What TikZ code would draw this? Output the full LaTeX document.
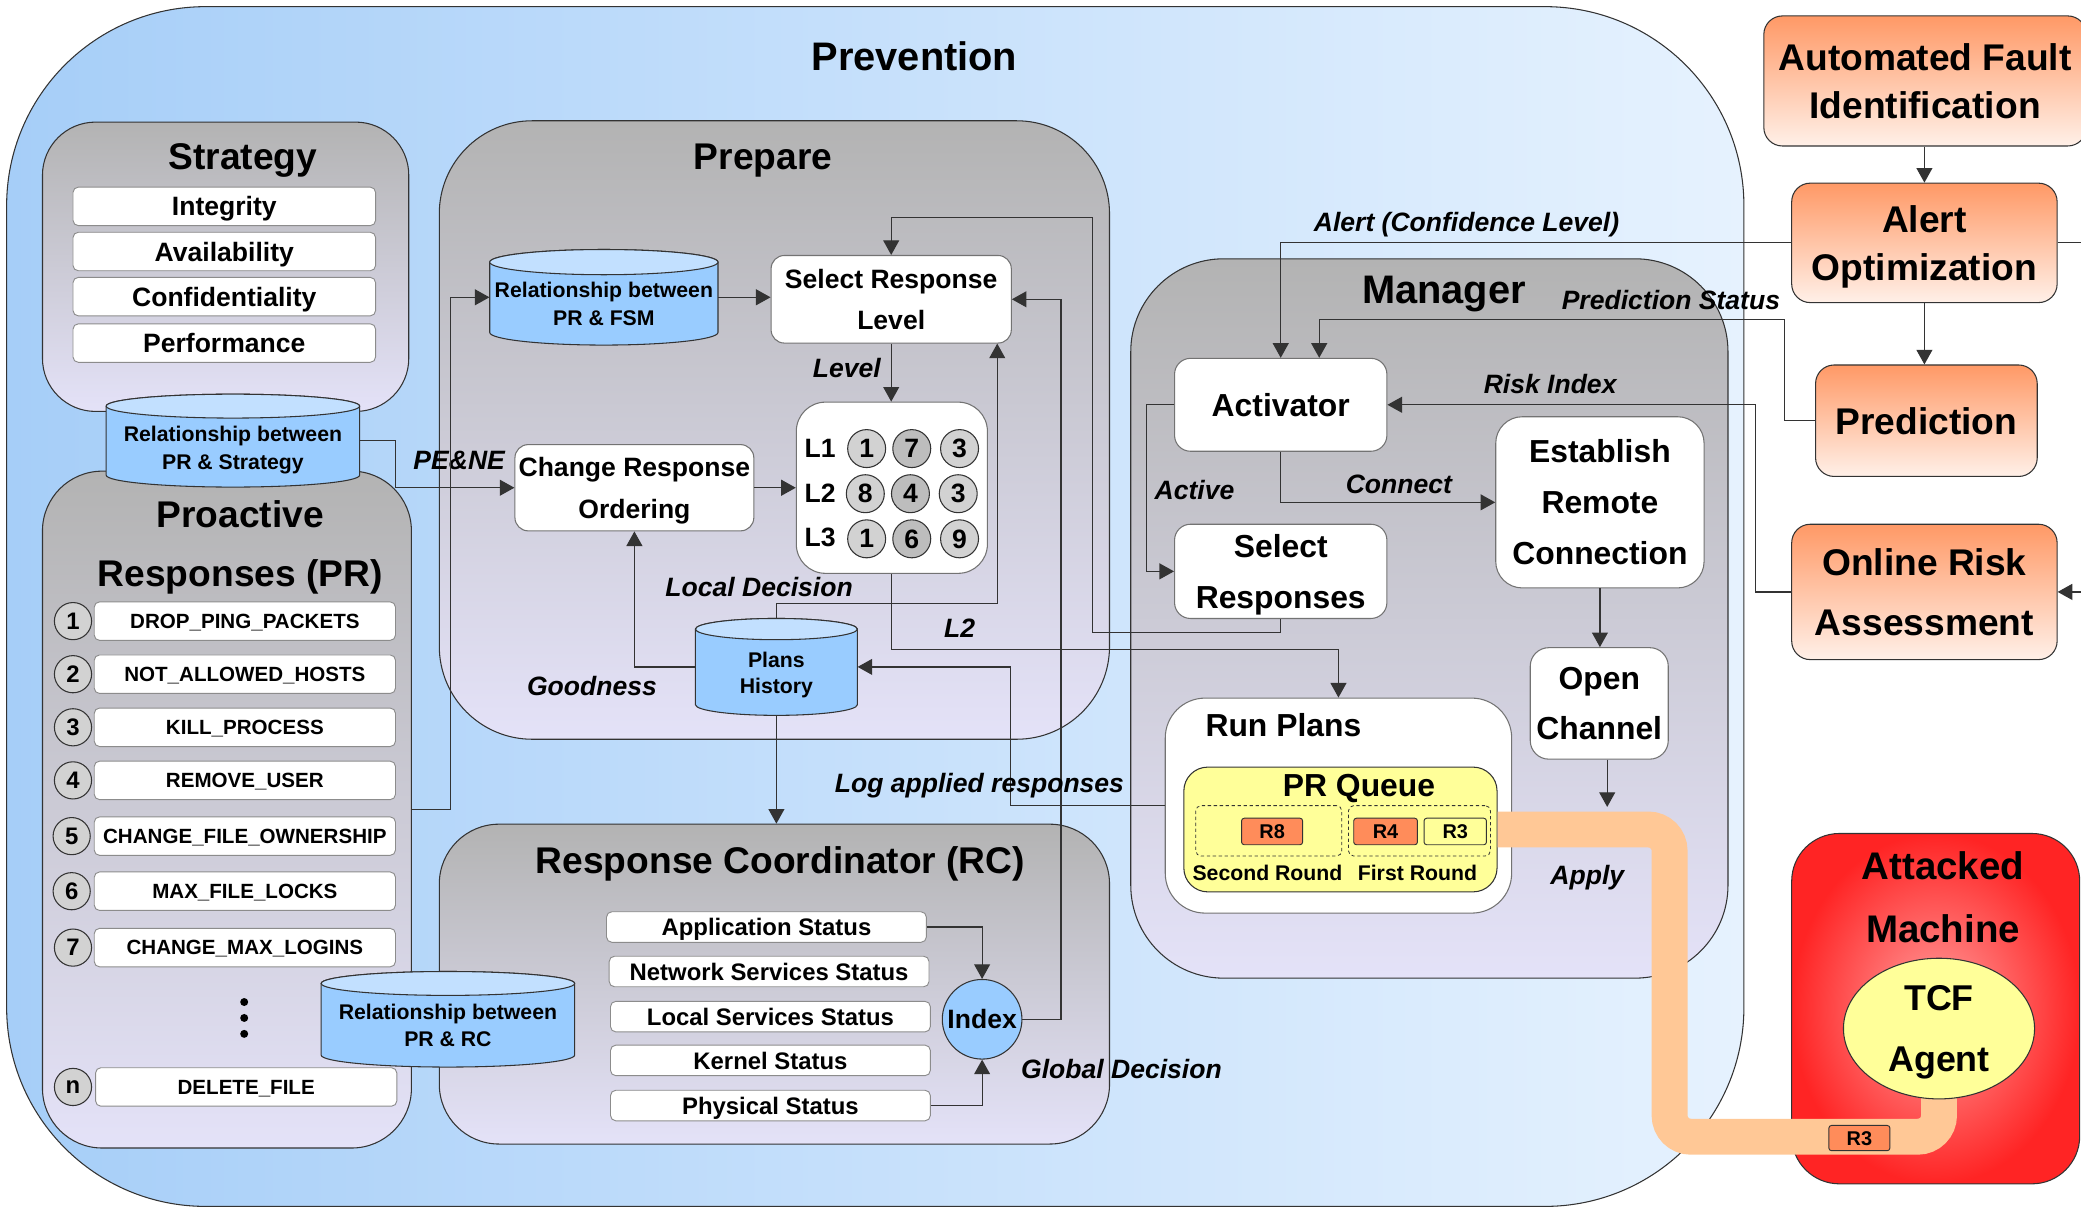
\documentclass[tikz,border=0pt]{standalone}
\usepackage{fontspec}
\setmainfont{Liberation Sans}
\usetikzlibrary{arrows.meta,shapes.geometric,calc}
\definecolor{gtop}{HTML}{B3B3B3}
\definecolor{gbot}{HTML}{E4E2F8}
\definecolor{pvA}{HTML}{A6CEF8}
\definecolor{pvB}{HTML}{E6F2FE}
\definecolor{cylB}{HTML}{99CCFF}
\definecolor{cylT}{HTML}{C2E0FF}
\definecolor{orT}{HTML}{FF9966}
\definecolor{orB}{HTML}{FFF0E8}
\definecolor{yel}{HTML}{FFFF99}
\definecolor{rbox}{HTML}{FF8C5A}
\definecolor{bandc}{HTML}{FFC896}
\definecolor{lnc}{HTML}{333333}
\definecolor{redO}{HTML}{FF2424}
\definecolor{redI}{HTML}{FFA0A0}
\definecolor{cga}{HTML}{D2D2D2}
\definecolor{cgb}{HTML}{BDBDBD}
\newcommand\fsz[2]{\fontsize{#1pt}{#2pt}\selectfont\bfseries}
\newcommand\drawcyl[5]{%
  \pgfmathsetmacro\cxa{(#1+#3)/2}%
  \pgfmathsetmacro\rxa{(#3-#1)/2}%
  \path[draw=lnc,line width=0.8pt,fill=cylB] (#1,#2+#5) -- (#1,#4-#5)
    arc[start angle=180,end angle=360,x radius=\rxa pt,y radius=#5pt]
    -- (#3,#2+#5) arc[start angle=0,end angle=180,x radius=\rxa pt,y radius=#5pt] -- cycle;
  \path[draw=lnc,line width=0.8pt,fill=cylT] (\cxa,#2+#5) ellipse[x radius=\rxa pt,y radius=#5pt];
}
\begin{document}
\begin{tikzpicture}[x=1pt,y=-1pt,
  every node/.append style={text depth=0pt},
  cont/.style={draw=lnc,line width=0.8pt,top color=gtop,bottom color=gbot,inner sep=0},
  nbox/.style={draw=black!55,line width=0.8pt,fill=white,rounded corners=10pt,inner sep=0,align=center},
  wbox/.style={draw=black!45,line width=0.7pt,fill=white,rounded corners=4pt,inner sep=0},
  ibox/.style={wbox,minimum width=227pt,minimum height=29pt,font=\fsz{15.5}{18}},
  sbox/.style={wbox,minimum width=241pt,minimum height=23pt,font=\fsz{18}{20}},
  numc/.style={circle,draw=lnc,line width=0.8pt,fill=cga,minimum size=28pt,inner sep=0,font=\fsz{18}{20}},
  gc/.style={circle,draw=lnc,line width=0.8pt,fill=cga,minimum size=28.6pt,inner sep=0,font=\fsz{20}{22}},
  obox/.style={draw=lnc,line width=0.8pt,top color=orT,bottom color=orB,rounded corners=14pt,inner sep=0,align=center,font=\fsz{28}{36}},
  rsm/.style={draw=lnc,line width=0.7pt,rounded corners=2pt,inner sep=0,minimum height=20pt,font=\fsz{15}{17}},
  lab/.style={inner sep=0,font=\fsz{20}{22}\itshape},
  ttl/.style={inner sep=0,font=\fsz{28}{30}},
  ctext/.style={inner sep=0,align=center,font=\fsz{16}{21}},
  ln/.style={draw=lnc,line width=0.9pt},
  arr/.style={ln,-{Triangle[length=11pt,width=12pt]}}]
\useasboundingbox (0,0) rectangle (1568,910);

% ---------------- Prevention ----------------
\node[draw=lnc,line width=0.8pt,left color=pvA,right color=pvB,inner sep=0,
  minimum width=1309pt,minimum height=904pt,rounded corners=150pt] (prev) at (659.5,457) {};
\node[inner sep=0,font=\fsz{30}{32}] (tprev) at (689,42) {Prevention};

% ---------------- Strategy ----------------
\node[cont,minimum width=276pt,minimum height=218pt,rounded corners=40pt] (strat) at (170,201) {};
\node[ttl] (tstrat) at (183,118) {Strategy};
\node[wbox,minimum width=228pt,minimum height=29pt,font=\fsz{20}{22}] (integ) at (169,155.5) {Integrity};
\node[wbox,minimum width=228pt,minimum height=29pt,font=\fsz{20}{22}] (avail) at (169,189.5) {Availability};
\node[wbox,minimum width=228pt,minimum height=29pt,font=\fsz{20}{22}] (conf) at (169,223.5) {Confidentiality};
\node[wbox,minimum width=228pt,minimum height=29pt,font=\fsz{20}{22}] (perf) at (169,258.5) {Performance};

% ---------------- Proactive Responses ----------------
\node[cont,minimum width=278pt,minimum height=510pt,rounded corners=45pt] (pro) at (171,610) {};
\node[ttl,align=center,font=\fsz{28}{45}] (tpro) at (181,409.5) {Proactive\\Responses (PR)};
\node[numc] (n1) at (55,468) {1};
\node[ibox] (p1) at (184.5,468) {DROP\_PING\_PACKETS};
\node[numc] (n2) at (55,508) {2};
\node[ibox] (p2) at (184.5,508) {NOT\_ALLOWED\_HOSTS};
\node[numc] (n3) at (55,548) {3};
\node[ibox] (p3) at (184.5,548) {KILL\_PROCESS};
\node[numc] (n4) at (55,588) {4};
\node[ibox] (p4) at (184.5,588) {REMOVE\_USER};
\node[numc] (n5) at (54,630) {5};
\node[ibox] (p5) at (184.5,630) {CHANGE\_FILE\_OWNERSHIP};
\node[numc] (n6) at (54,671.5) {6};
\node[ibox] (p6) at (184.5,671.5) {MAX\_FILE\_LOCKS};
\node[numc] (n7) at (55,714) {7};
\node[ibox] (p7) at (184.5,714) {CHANGE\_MAX\_LOGINS};
\fill[black] (184,755) circle (3pt) (184,767) circle (3pt) (184,779) circle (3pt);
\node[numc] (nn) at (55,819) {n};
\node[ibox] (pn) at (185.5,819) {DELETE\_FILE};

% Relationship PR & Strategy
\drawcyl{80}{297}{271}{367}{9}
\node[inner sep=0,minimum width=191pt,minimum height=70pt] (cylPS) at (175.5,332) {};
\node[ctext] (tcylPS) at (175.5,337.5) {Relationship between\\PR \& Strategy};

% ---------------- Prepare ----------------
\node[cont,minimum width=505pt,minimum height=466pt,rounded corners=70pt] (prep) at (583.5,324) {};
\node[ttl] (tprep) at (575,118) {Prepare};
\drawcyl{369}{188}{541}{260}{9.5}
\node[inner sep=0,minimum width=172pt,minimum height=72pt] (cylF) at (455,224) {};
\node[ctext] (tcylF) at (455,229) {Relationship between\\PR \& FSM};
\node[nbox,minimum width=181pt,minimum height=66pt,font=\fsz{20}{31}] (srl) at (671.5,225.5) {Select Response\\Level};
\node[nbox,minimum width=180pt,minimum height=65pt,font=\fsz{20}{32}] (cro) at (478,367.5) {Change Response\\Ordering};
\node[nbox,minimum width=144pt,minimum height=129pt,rounded corners=22pt] (grid) at (672,367.5) {};
\node[inner sep=0,font=\fsz{20}{22}] (l1) at (618,338) {L1};
\node[inner sep=0,font=\fsz{20}{22}] (l2) at (618,372) {L2};
\node[inner sep=0,font=\fsz{20}{22}] (l3) at (618,405) {L3};
\node[gc] (c11) at (653,338) {1};
\node[gc,fill=cgb] (c12) at (687,338) {7};
\node[gc] (c13) at (723,338) {3};
\node[gc] (c21) at (652,372) {8};
\node[gc,fill=cgb] (c22) at (686,372) {4};
\node[gc] (c23) at (722,372) {3};
\node[gc] (c31) at (653,406) {1};
\node[gc,fill=cgb] (c32) at (687,406) {6};
\node[gc] (c33) at (723,406) {9};
\drawcyl{524}{466}{646}{539}{8}
\node[inner sep=0,minimum width=122pt,minimum height=73pt] (ph) at (585,502.5) {};
\node[ctext,font=\fsz{16}{20}] (tph) at (585,507) {Plans\\History};

% ---------------- Response Coordinator ----------------
\node[cont,minimum width=505pt,minimum height=241pt,rounded corners=45pt] (rc) at (583.5,741.5) {};
\node[ttl] (trc) at (588,648) {Response Coordinator (RC)};
\node[sbox] (as) at (577.5,698.5) {Application Status};
\node[sbox] (ns) at (579.5,732) {Network Services Status};
\node[sbox] (ls) at (580.5,766) {Local Services Status};
\node[sbox] (ks) at (580.5,799) {Kernel Status};
\node[sbox] (phs) at (580.5,833) {Physical Status};
\node[circle,draw=lnc,line width=0.8pt,fill=cylB,minimum size=60pt,inner sep=0,font=\fsz{20}{22}] (idx) at (740,768) {Index};
\drawcyl{242}{732}{433}{804}{9}
\node[inner sep=0,minimum width=191pt,minimum height=72pt] (cylRC) at (337.5,768) {};
\node[ctext] (tcylRC) at (337.5,772.5) {Relationship between\\PR \& RC};

% ---------------- Manager ----------------
\node[cont,minimum width=450pt,minimum height=542pt,rounded corners=70pt] (man) at (1077,466) {};
\node[inner sep=0,font=\fsz{30}{32}] (tman) at (1088,218) {Manager};
\node[nbox,rounded corners=12pt,minimum width=160pt,minimum height=70pt,font=\fsz{24}{26}] (act) at (965,305) {Activator};
\node[nbox,rounded corners=12pt,minimum width=160pt,minimum height=71pt,font=\fsz{24}{39}] (sr) at (965,430.5) {Select\\Responses};
\node[nbox,rounded corners=20pt,minimum width=157pt,minimum height=129pt,font=\fsz{24}{38.5}] (erc) at (1205.5,378.5) {Establish\\Remote\\Connection};
\node[nbox,rounded corners=14pt,minimum width=104pt,minimum height=84pt,font=\fsz{24}{38}] (oc) at (1205,530) {Open\\Channel};
\node[nbox,rounded corners=30pt,minimum width=261pt,minimum height=162pt] (rp) at (1008.5,607) {};
\node[inner sep=0,font=\fsz{24}{26}] (trp) at (967,546) {Run Plans};
\node[draw=lnc,line width=0.8pt,fill=yel,rounded corners=18pt,minimum width=236pt,minimum height=94pt,inner sep=0] (prq) at (1010,625) {};
\node[inner sep=0,font=\fsz{24}{26}] (tprq) at (1024,592) {PR Queue};
\node[draw=lnc,line width=0.6pt,dash pattern=on 2.5pt off 2pt,rounded corners=4pt,minimum width=110pt,minimum height=38pt,inner sep=0] (sround) at (956,626) {};
\node[draw=lnc,line width=0.6pt,dash pattern=on 2.5pt off 2pt,rounded corners=4pt,minimum width=107pt,minimum height=38pt,inner sep=0] (fround) at (1069.5,626) {};
\node[rsm,fill=rbox,minimum width=46pt] (r8) at (958.5,626.5) {R8};
\node[rsm,fill=rbox,minimum width=48pt] (r4) at (1044,626.5) {R4};
\node[rsm,fill=yel,minimum width=47pt] (r3) at (1096.5,626.5) {R3};
\node[inner sep=0,font=\fsz{16}{18}] (tsr) at (955,658) {Second Round};
\node[inner sep=0,font=\fsz{16}{18}] (tfr) at (1068,658) {First Round};

% ---------------- Right column ----------------
\node[obox,minimum width=243pt,minimum height=98pt] (afi) at (1450.5,61) {Automated Fault\\Identification};
\node[obox,minimum width=200pt,minimum height=90pt] (ao) at (1450,183) {Alert\\Optimization};
\node[obox,minimum width=167pt,minimum height=84pt] (pred) at (1451.5,317) {Prediction};
\node[obox,minimum width=200pt,minimum height=102pt,font=\fsz{28}{45}] (ora) at (1450,446) {Online Risk\\Assessment};
\coordinate (edgeA) at (1568,183);
\coordinate (edgeB) at (1568,446);

% Attacked machine
\node[draw=lnc,line width=0.8pt,shading=radial,inner color=redI,outer color=redO,rounded corners=36pt,minimum width=217pt,minimum height=264pt,inner sep=0] (atk) at (1458.5,760) {};
\node[inner sep=0,align=center,font=\fsz{29}{48}] (tatk) at (1464,676) {Attacked\\Machine};

% applied response band
\draw[draw=bandc,line width=27pt,rounded corners=16pt] (prq.east) -- (1258,625) -- (1258,856.5) -| (1461,800);
\node[rsm,fill=rbox,minimum width=46pt,minimum height=19pt] (r3b) at (1401,857.5) {R3};
\node[ellipse,draw=lnc,line width=0.8pt,fill=yel,minimum width=144pt,minimum height=106pt,inner sep=0,align=center,font=\fsz{27}{46}] (tcf) at (1461,775) {TCF\\Agent};

% ---------------- Connectors ----------------
\draw[arr] (cylPS.east) -- ++(27,0) |- (cro.west);
\node[lab] (lpene) at (346,347) {PE\&NE};
\draw[arr] (pro.east) -- ++(29,0) |- (cylF.west);
\draw[arr] (cylF.east) -- (cylF.east -| srl.west);
\draw[arr] (srl.south) -- (srl.south |- grid.north);
\node[lab] (llevel) at (638,277) {Level};
\draw[arr] (cro.east) -- (grid.west);
\draw[arr] (ph.north) -- ++(0,-11) -| ([xshift=-11pt]srl.south east);
\node[lab] (lloc) at (572,442) {Local Decision};
\draw[arr] (idx.east) -- ++(29,0) |- (srl.east);
\node[lab] (lglob) at (845,805) {Global Decision};
\draw[arr] (sr.south) -- ++(0,10) -| (823,164) -| (srl.north);
\draw[arr] (grid.south) -- ++(0,57) -| (rp.north);
\node[lab] (ll2) at (723,473) {L2};
\draw[arr] (rp.west) -- ++(-116,0) |- (ph.east);
\node[lab] (llog) at (738,590) {Log applied responses};
\draw[arr] (ph.west) -| (cro.south);
\node[lab] (lgood) at (446,517) {Goodness};
\draw[arr] (ph.south) -- (ph.south |- rc.north);
\draw[arr] (as.east) -| (idx.north);
\draw[arr] (phs.east) -| (idx.south);
\draw[arr] (ao.west) -| (act.north);
\node[lab] (lalert) at (1105,167) {Alert (Confidence Level)};
\draw[arr] (pred.west) -- ++(-23,0) -- ++(0,-76.5) -| ([xshift=29pt]act.north);
\node[lab] (lpred) at (1259,226) {Prediction Status};
\draw[arr] (ora.west) -- ++(-27,0) |- (act.east);
\node[lab] (lrisk) at (1168,289) {Risk Index};
\draw[arr] (act.south) |- (erc.west);
\node[lab] (lconn) at (1054,365) {Connect};
\draw[arr] (act.west) -- ++(-21,0) |- (sr.west);
\node[lab] (lact) at (900,369) {Active};
\draw[arr] (erc.south) -- (erc.south |- oc.north);
\coordinate (apply) at (1211,608);
\draw[arr] ([xshift=6pt]oc.south) -- (apply);
\node[lab] (lapply) at (1196,659) {Apply};
\draw[arr] (ao.north |- afi.south) -- (ao.north);
\draw[arr] (ao.south) -- (ao.south |- pred.north);
\draw[ln] (ao.east) -- (edgeA);
\draw[arr] (edgeB) -- (ora.east);
\end{tikzpicture}
\end{document}
